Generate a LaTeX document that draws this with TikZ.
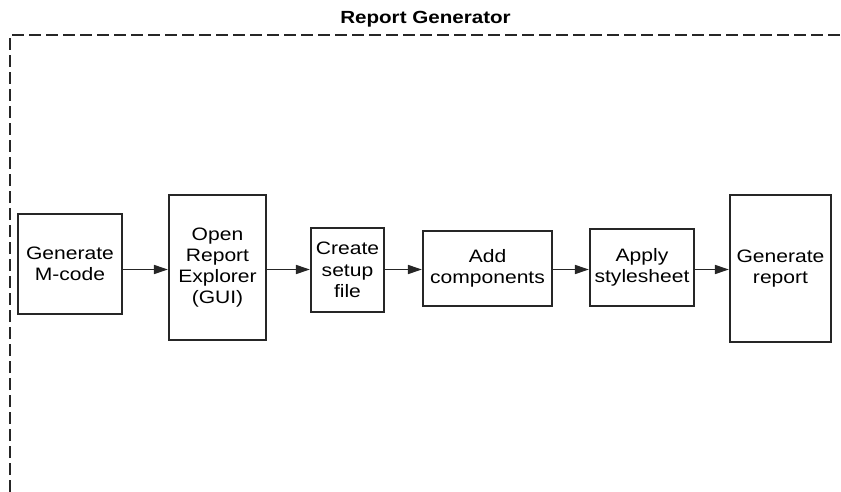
\documentclass[tikz,border=0pt]{standalone}
\usepackage{fontspec}
\setmainfont{Liberation Sans}[FakeStretch=1.17]
\usetikzlibrary{positioning,arrows.meta}

\begin{document}
\begin{tikzpicture}[x=1pt, y=-1pt,
        step_box/.style={draw=black!85, line width=2.2pt, inner sep=0pt, align=center,
          font=\fontsize{18}{21.2}\selectfont},
        flow_arrow/.style={draw=black!85, line width=1.7pt, -{Triangle[length=14pt,width=9pt]}},
        frame_line/.style={draw=black!85, line width=2pt, dash pattern=on 12pt off 5pt}]
        \useasboundingbox (0,0) rectangle (841,492);
        \node[font=\fontsize{17.6}{20}\selectfont\bfseries] (title) at (425.5,19) {Report Generator};
        \draw[frame_line] (10,492) -- (10,35) -- (845,35);
        \node[step_box, minimum width=104pt, minimum height=100pt] (mcode) at (70,264) {Generate\\M-code};
        \node[step_box, minimum width=97pt, minimum height=145pt] (explorer) at (217.5,267.5) {Open\\Report\\Explorer\\(GUI)};
        \node[step_box, minimum width=73pt, minimum height=84pt] (setup) at (347.5,270) {Create\\setup\\file};
        \node[step_box, minimum width=129pt, minimum height=75pt] (comps) at (487.5,268.5) {Add\\components};
        \node[step_box, minimum width=104pt, minimum height=77pt] (style) at (642,267.5) {Apply\\stylesheet};
        \node[step_box, minimum width=101pt, minimum height=147pt] (report) at (780.5,268.5) {Generate\\report};
        \coordinate (row) at (0,269.5);
        \draw[flow_arrow] (mcode.east |- row) -- (explorer.west |- row);
        \draw[flow_arrow] (explorer.east |- row) -- (setup.west |- row);
        \draw[flow_arrow] (setup.east |- row) -- (comps.west |- row);
        \draw[flow_arrow] (comps.east |- row) -- (style.west |- row);
        \draw[flow_arrow] (style.east |- row) -- (report.west |- row);
      \end{tikzpicture}
\end{document}
